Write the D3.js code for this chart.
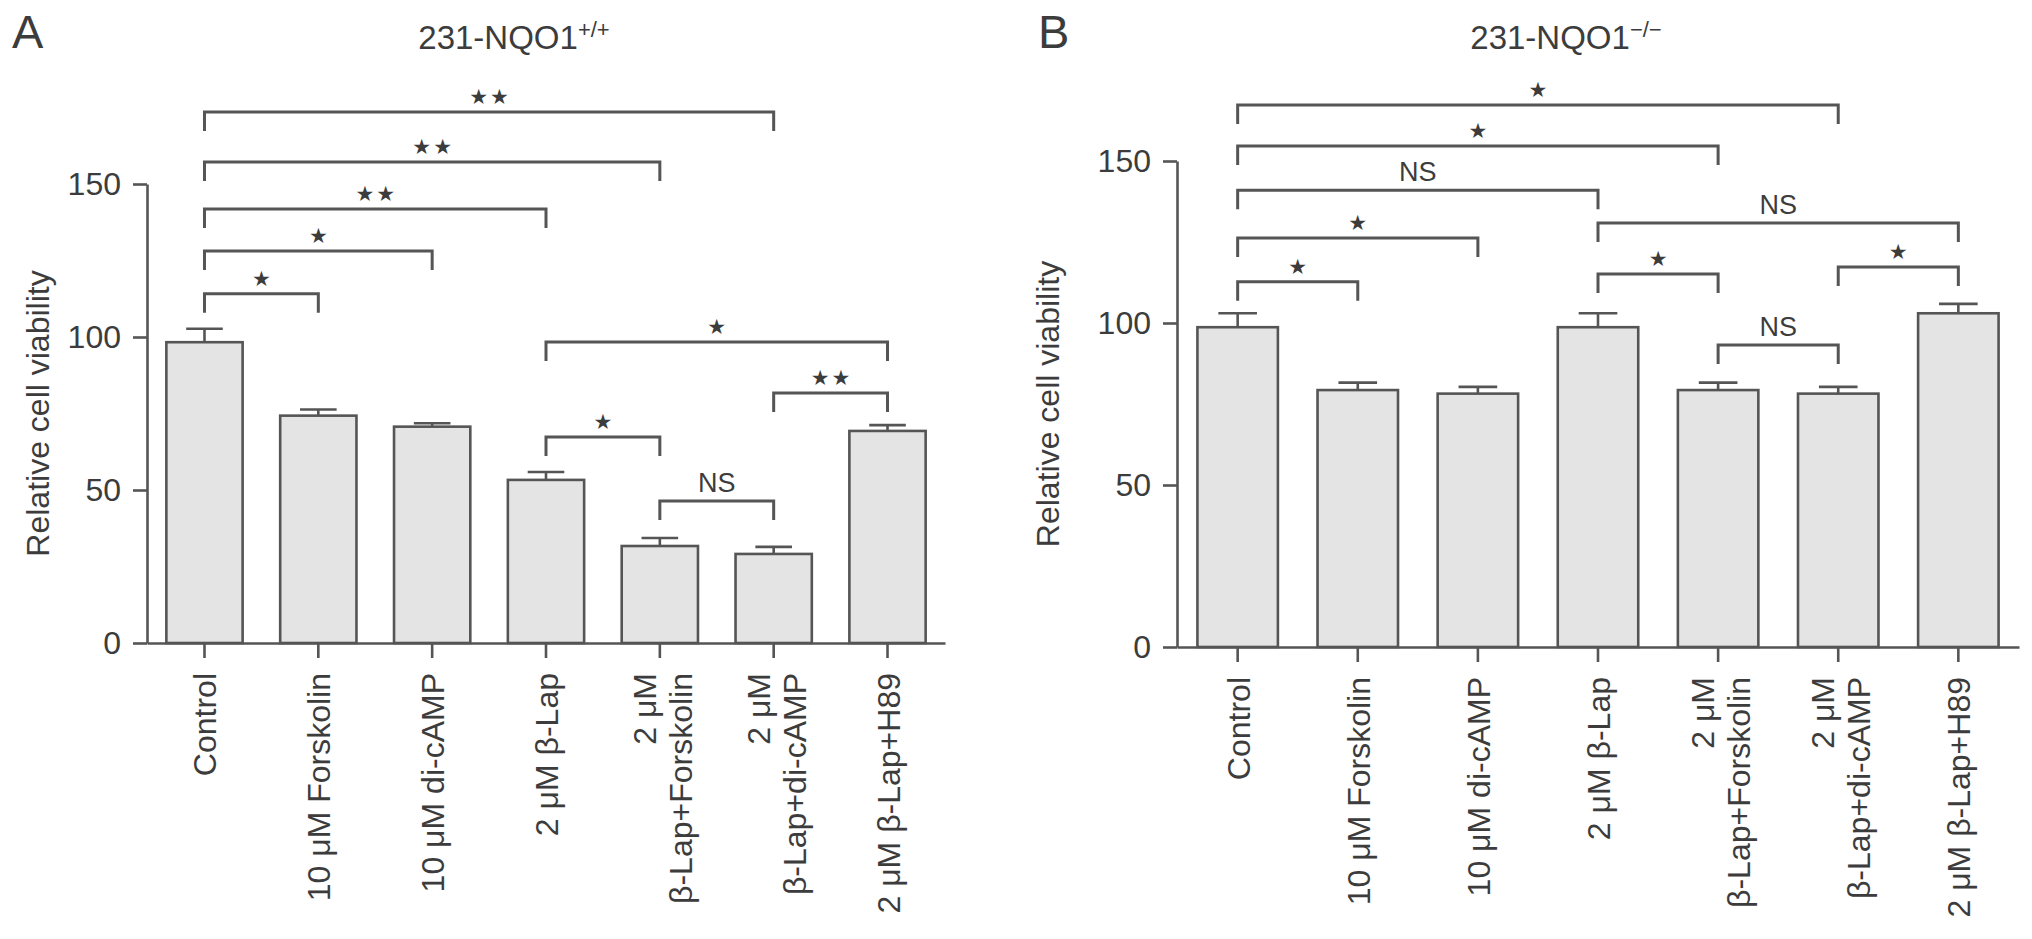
<!DOCTYPE html>
<html>
<head>
<meta charset="utf-8">
<script src="https://cdn.jsdelivr.net/npm/d3@7"></script>
<style>
  body { margin: 0; background: #fff; }
  svg text { font-family: "Liberation Sans", Arial, sans-serif; fill: #3c3c3c; }
</style>
</head>
<body>
<svg id="canvas"></svg>
<script>
// tick labels of both panels (two-line labels split in lines)
const categories = [
  ["Control"],
  ["10 \u03bcM Forskolin"],
  ["10 \u03bcM di-cAMP"],
  ["2 \u03bcM \u03b2-Lap"],
  ["2 \u03bcM", "\u03b2-Lap+Forskolin"],
  ["2 \u03bcM", "\u03b2-Lap+di-cAMP"],
  ["2 \u03bcM \u03b2-Lap+H89"]
];
const yTicks = [0, 50, 100, 150];

// panel A: 231-NQO1 +/+
const meansA = [98.3, 74.3, 70.7, 53.3, 31.7, 29.1, 69.3];
const errsA = [4.4, 2.0, 1.1, 2.6, 2.6, 2.3, 1.9];
// [from, to, bracket level, label]
const sigA = [
  [0, 5, 173.5, "**"],
  [0, 4, 157.2, "**"],
  [0, 3, 141.8, "**"],
  [0, 2, 128.1, "*"],
  [0, 1, 114.1, "*"],
  [3, 6, 98.4, "*"],
  [5, 6, 81.7, "**"],
  [3, 4, 67.3, "*"],
  [4, 5, 46.4, "NS"]
];

// panel B: 231-NQO1 -/-
const meansB = [98.7, 79.3, 78.2, 98.7, 79.3, 78.2, 103.0];
const errsB = [4.3, 2.3, 2.1, 4.3, 2.3, 2.1, 2.9];
const sigB = [
  [0, 5, 167.3, "*"],
  [0, 4, 154.6, "*"],
  [0, 3, 141.0, "NS"],
  [3, 6, 130.9, "NS"],
  [0, 2, 126.2, "*"],
  [3, 4, 115.1, "*"],
  [5, 6, 117.3, "*"],
  [0, 1, 112.7, "*"],
  [4, 5, 93.2, "NS"]
];

const width = 2032;
const height = 939;
const ink = '#555';

const panels = [
  { letter: 'A', title: '231-NQO1', sup: '+/+', means: meansA, errs: errsA, sig: sigA,
    left: 147, right: 945, top: 184, bottom: 643, letterX: 12, yLabelX: 38 },
  { letter: 'B', title: '231-NQO1', sup: '\u2212/\u2212', means: meansB, errs: errsB, sig: sigB,
    left: 1177, right: 2019, top: 161, bottom: 647, letterX: 1038, yLabelX: 1048 }
];

let canvas = d3.select('#canvas')
  .attr('width', width)
  .attr('height', height);

const drawPanel = (p) => {
  const g = canvas.append('g');

  const xScale = d3.scaleBand()
    .domain(d3.range(categories.length))
    .range([p.left, p.right])
    .paddingInner(0.33)
    .paddingOuter(0.17);

  const yScale = d3.scaleLinear()
    .domain([0, 150])
    .range([p.bottom, p.top]);

  const bw = xScale.bandwidth();
  const cx = i => xScale(i) + bw / 2;

  // bars
  g.selectAll('rect.bar')
    .data(p.means)
    .enter()
    .append('rect')
    .attr('class', 'bar')
    .attr('x', (d, i) => xScale(i))
    .attr('y', d => yScale(d))
    .attr('width', bw)
    .attr('height', d => yScale(0) - yScale(d))
    .attr('fill', '#e4e4e4')
    .attr('stroke', ink)
    .attr('stroke-width', 2.6);

  // error bars (upper only)
  const capW = bw * 0.48;
  const err = g.selectAll('g.err')
    .data(p.means)
    .enter()
    .append('g')
    .attr('class', 'err')
    .attr('stroke', ink)
    .attr('stroke-width', 2.6);
  err.append('line')
    .attr('x1', (d, i) => cx(i))
    .attr('x2', (d, i) => cx(i))
    .attr('y1', d => yScale(d))
    .attr('y2', (d, i) => yScale(d + p.errs[i]));
  err.append('line')
    .attr('x1', (d, i) => cx(i) - capW / 2)
    .attr('x2', (d, i) => cx(i) + capW / 2)
    .attr('y1', (d, i) => yScale(d + p.errs[i]))
    .attr('y2', (d, i) => yScale(d + p.errs[i]));

  // axes
  const yAxis = d3.axisLeft(yScale)
    .tickValues(yTicks)
    .tickSize(14)
    .tickSizeOuter(0)
    .tickPadding(12);
  const ya = g.append('g')
    .attr('transform', 'translate(' + p.left + ',0)')
    .call(yAxis);

  const xAxis = d3.axisBottom(xScale)
    .tickSize(15)
    .tickSizeOuter(0)
    .tickFormat('');
  const xa = g.append('g')
    .attr('transform', 'translate(0,' + p.bottom + ')')
    .call(xAxis);

  [ya, xa].forEach(a => {
    a.selectAll('path.domain, line').attr('stroke', ink).attr('stroke-width', 2.6);
  });
  ya.selectAll('text')
    .style('font-size', '32px')
    .style('font-family', '"Liberation Sans", Arial, sans-serif')
    .attr('fill', '#3c3c3c');
  xa.selectAll('text').remove();

  // category labels, rotated
  const lab = g.selectAll('g.cat')
    .data(categories)
    .enter()
    .append('g')
    .attr('class', 'cat')
    .attr('transform', (d, i) => 'translate(' + cx(i) + ',' + (p.bottom + 30) + ') rotate(-90)');
  lab.append('text')
    .attr('text-anchor', 'end')
    .style('font-size', '32px')
    .selectAll('tspan')
    .data(d => d.map((t, k) => ({ t: t, k: k, n: d.length })))
    .enter()
    .append('tspan')
    .attr('x', 0)
    .attr('y', d => d.n === 1 ? 12 : (d.k === 0 ? -4 : 32))
    .text(d => d.t);

  // y axis title
  g.append('text')
    .attr('transform', 'translate(' + p.yLabelX + ',' + ((p.top + p.bottom) / 2) + ') rotate(-90)')
    .attr('text-anchor', 'middle')
    .attr('dominant-baseline', 'central')
    .style('font-size', '32px')
    .text('Relative cell viability');

  // panel title
  const t = g.append('text')
    .attr('x', (p.left + p.right) / 2 - 32)
    .attr('y', 49)
    .attr('text-anchor', 'middle')
    .style('font-size', '33px');
  t.append('tspan').text(p.title);
  t.append('tspan')
    .attr('dy', -12)
    .style('font-size', '22px')
    .text(p.sup);

  // panel letter
  g.append('text')
    .attr('x', p.letterX)
    .attr('y', 48)
    .style('font-size', '47px')
    .text(p.letter);

  // significance brackets
  const leg = 19;
  const br = g.selectAll('g.sig')
    .data(p.sig)
    .enter()
    .append('g')
    .attr('class', 'sig');
  br.append('path')
    .attr('d', d => {
      const y0 = yScale(d[2]);
      return 'M' + cx(d[0]) + ',' + (y0 + leg) + 'V' + y0 + 'H' + cx(d[1]) + 'V' + (y0 + leg);
    })
    .attr('fill', 'none')
    .attr('stroke', ink)
    .attr('stroke-width', 3);
  br.append('text')
    .attr('x', d => (cx(d[0]) + cx(d[1])) / 2 + (d[3] === '**' ? 1 : 0))
    .attr('y', d => d[3] === 'NS' ? yScale(d[2]) - 9 : yScale(d[2]) - 15)
    .attr('text-anchor', 'middle')
    .attr('dominant-baseline', d => d[3] === 'NS' ? 'auto' : 'central')
    .style('font-size', d => d[3] === 'NS' ? '27px' : '21px')
    .style('font-family', d => d[3] === 'NS' ? '"Liberation Sans", Arial, sans-serif' : '"DejaVu Sans", sans-serif')
    .style('letter-spacing', d => d[3] === '**' ? '2px' : '0px')
    .text(d => d[3] === 'NS' ? 'NS' : d[3].replace(/\*/g, '\u2605'));
};

panels.forEach(drawPanel);
</script>
</body>
</html>
